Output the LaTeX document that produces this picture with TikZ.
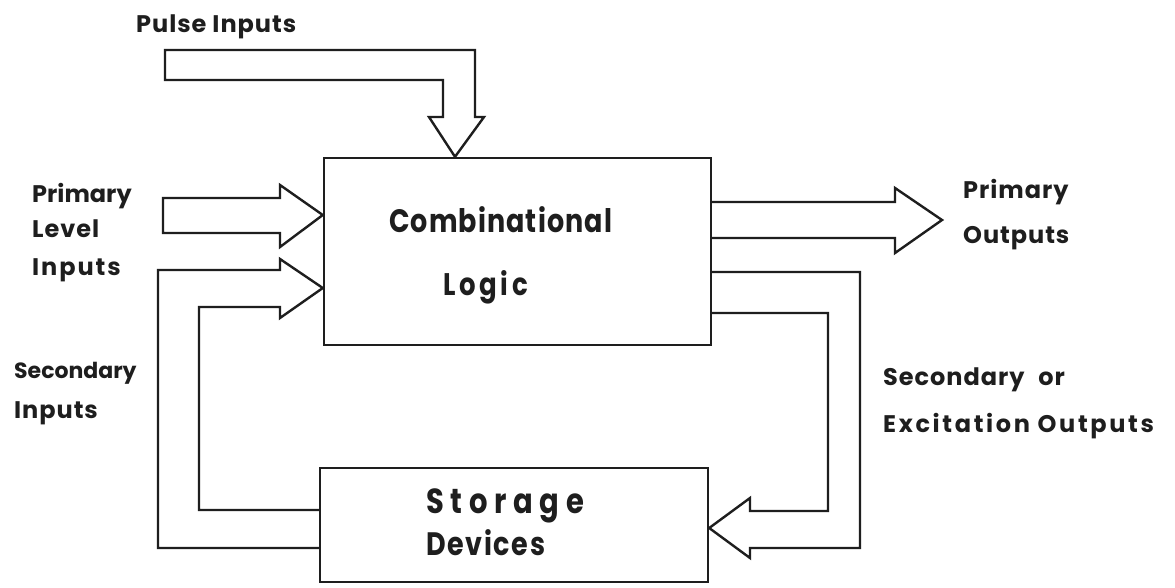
\documentclass[tikz,border=0pt]{standalone}
\usepackage{fontspec}
\setmainfont{Poppins}
\definecolor{ink}{HTML}{1E1E1E}
\newcommand{\lfont}[2]{\fontsize{#1}{#1}\selectfont\bfseries\addfontfeature{LetterSpace=#2}}
\newcommand{\tall}[1]{\scalebox{1}[1.2]{#1}}
\begin{document}
\begin{tikzpicture}[x=1pt,y=-1pt,
  line width=2.4pt, line join=miter,
  blk/.style={draw=ink, line width=2.4pt, inner sep=0pt},
  hollow/.style={draw=ink, line width=2.4pt, line join=miter},
  lab/.style={anchor=base west, inner sep=0pt, text=ink, font=\lfont{24}{4}}]
\useasboundingbox[fill=white] (0,0) rectangle (1175,587);
% boxes
\node[blk, minimum width=387pt, minimum height=187pt] (comb) at (517.5,251.5) {};
\node[blk, minimum width=388pt, minimum height=114pt] (stor) at (514,525) {};
% tip coordinates
\coordinate (px) at (455,0);
\coordinate (ly) at (0,215);
\coordinate (sy) at (0,288);
\coordinate (ry) at (0,528);
\coordinate (ptip) at (comb.north -| px);
\coordinate (ltip) at (comb.west |- ly);
\coordinate (stip) at (comb.west |- sy);
\coordinate (otip) at (942,220);
\coordinate (rtip) at (stor.east |- ry);
% pulse inputs arrow
\draw[hollow] (165,50) -- (475,50) -- (475,117) -- (484,117) -- (ptip)
  -- (429,117) -- (443,117) -- (443,80) -- (165,80) -- cycle;
% primary level inputs arrow
\draw[hollow] (163,198) -- (280,198) -- (280,185) -- (ltip)
  -- (280,247) -- (280,233) -- (163,233) -- cycle;
% secondary inputs (feedback from storage)
\draw[hollow] (stor.west |- 0,548) -- (158,548) -- (158,270) -- (280,270) -- (280,259) -- (stip)
  -- (280,318) -- (280,307) -- (199,307) -- (199,510) -- (stor.west |- 0,510);
% primary outputs arrow
\draw[hollow] (comb.east |- 0,202) -- (895,202) -- (895,188) -- (otip)
  -- (895,253) -- (895,238) -- (comb.east |- 0,238);
% secondary / excitation outputs to storage
\draw[hollow] (comb.east |- 0,272) -- (860,272) -- (860,548) -- (750,548) -- (750,558) -- (rtip)
  -- (750,498) -- (750,511) -- (828,511) -- (828,313) -- (comb.east |- 0,313);
% labels
\node[lab] (pulse) at (135,32) {Pulse Inputs};
\node[lab, font=\lfont{24}{0}] (pl1) at (31,202) {Primary};
\node[lab, font=\lfont{24}{4}] (pl2) at (31,237) {Level};
\node[lab, font=\lfont{24}{8}] (pl3) at (31,275) {Inputs};
\node[lab, font=\lfont{22}{0}] (si1) at (13,378) {Secondary};
\node[lab, font=\lfont{24}{4}] (si2) at (13,418) {Inputs};
\node[lab] (po1) at (962,198) {Primary};
\node[lab] (po2) at (962,243) {Outputs};
\node[lab] (so1) at (882,385) {Secondary\hspace{14pt}or};
\node[lab, font=\lfont{24}{11}] (so2) at (882,432) {Excitation Outputs};
\node[lab, font=\lfont{27}{4}] (cl1) at (388,232) {\tall{Combinational}};
\node[lab, font=\lfont{26}{14}] (cl2) at (442,295) {\tall{Logic}};
\node[lab, font=\lfont{29}{23}] (sd1) at (425,513) {\tall{Storage}};
\node[lab, font=\lfont{27}{6}] (sd2) at (425,555) {\tall{Devices}};
\end{tikzpicture}
\end{document}
